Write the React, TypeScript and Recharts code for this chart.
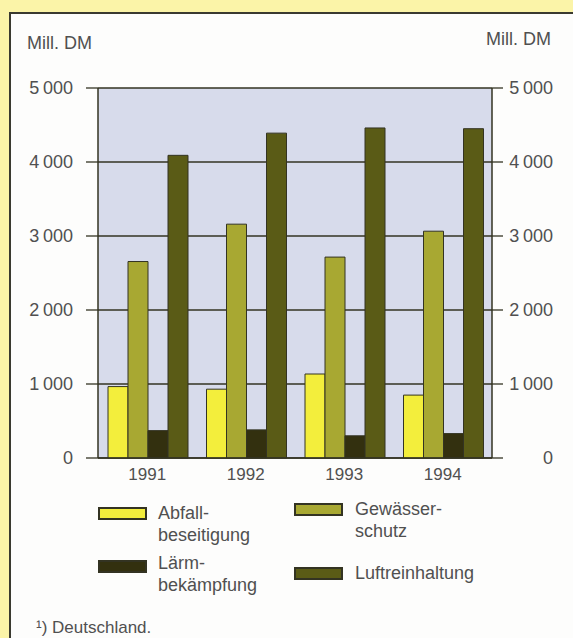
import React from 'react';
import { ComposedChart, Bar, Line, XAxis, YAxis, CartesianGrid, Legend } from 'recharts';

const years = ['1991', '1992', '1993', '1994'];
const abfall = [965, 930, 1135, 850];
const gewaesser = [2655, 3160, 2715, 3065];
const laerm = [370, 380, 300, 330];
const luft = [4090, 4390, 4460, 4450];
const yTicks = [0, 1000, 2000, 3000, 4000, 5000];
const seriesKeys = ['abfall', 'gewaesser', 'laerm', 'luft'];
const seriesLabels = [['Abfall-', 'beseitigung'], ['Gewässer-', 'schutz'], ['Lärm-', 'bekämpfung'], ['Luftreinhaltung']];
const axisTitle = 'Mill. DM';
const footnote = '¹) Deutschland.';

const colors = ['#f3ee3c', '#a8a832', '#33300f', '#5a5b16'];
const data = years.map((y, i) => ({ year: y, abfall: abfall[i], gewaesser: gewaesser[i], laerm: laerm[i], luft: luft[i] }));

const FONT = '"Liberation Sans", Arial, sans-serif';
const TEXT = '#505050';
const LINE = '#333322';

const fmt = (v: number) => (v >= 1000 ? `${Math.floor(v / 1000)}\u2009${String(v % 1000).padStart(3, '0')}` : String(v));

const RightTick = (props: any) => {
  const { x, y, payload } = props;
  return (
    <text x={x + 48} y={y} dy={6} textAnchor="end" fill={TEXT} fontSize={18} fontFamily={FONT}>
      {fmt(payload.value)}
    </text>
  );
};

const legendLayout = [
  { sx: 98, sy: 17, tx: 158, ty: 12 },
  { sx: 294, sy: 13, tx: 355, ty: 8 },
  { sx: 98, sy: 70, tx: 158, ty: 62 },
  { sx: 294, sy: 77, tx: 355, ty: 72 },
];

const LegendContent = () => (
  <div style={{ position: 'relative', width: 573, height: 120, fontFamily: FONT }}>
    {seriesKeys.map((k, i) => {
      const l = legendLayout[i];
      return (
        <React.Fragment key={k}>
          <div
            style={{
              position: 'absolute', left: l.sx, top: l.sy, width: 45, height: 9,
              background: colors[i], border: `2px solid ${LINE}`,
            }}
          />
          <div style={{ position: 'absolute', left: l.tx, top: l.ty, fontSize: 18, lineHeight: '22px', color: TEXT }}>
            {seriesLabels[i].map((t) => (
              <div key={t}>{t}</div>
            ))}
          </div>
        </React.Fragment>
      );
    })}
  </div>
);

export default function App() {
  return (
    <div style={{ position: 'absolute', left: 0, top: 0, width: 573, height: 638, background: '#fbf4a8', overflow: 'hidden' }}>
      <div
        style={{
          position: 'absolute', left: 9, top: 12, width: 620, height: 700,
          background: '#fdfdfc', border: '2px solid #3a3a30', boxSizing: 'border-box',
        }}
      />
      <div style={{ position: 'absolute', left: 27, top: 31, fontFamily: FONT, fontSize: 18, color: TEXT, lineHeight: '24px' }}>{axisTitle}</div>
      <div style={{ position: 'absolute', left: 486, top: 27, fontFamily: FONT, fontSize: 18, color: TEXT, lineHeight: '24px' }}>{axisTitle}</div>
      <div style={{ position: 'absolute', left: 36, top: 616, fontFamily: FONT, fontSize: 17, color: TEXT, lineHeight: '24px' }}>{footnote}</div>
      <div style={{ position: 'absolute', left: 0, top: 0 }}>
        <ComposedChart
          width={573}
          height={638}
          data={data}
          margin={{ top: 88, right: 21, bottom: 150, left: 38 }}
          barCategoryGap={10}
          barGap={0}
        >
          <CartesianGrid yAxisId="left" vertical={false} stroke={LINE} strokeWidth={1.3} fill="#d7dbeb" fillOpacity={1} />
          <XAxis
            dataKey="year"
            height={30}
            axisLine={{ stroke: LINE, strokeWidth: 1.5 }}
            tickLine={false}
            tickSize={0}
            tickMargin={10}
            tick={{ fill: TEXT, fontSize: 17, fontFamily: FONT }}
          />
          <YAxis
            yAxisId="left"
            width={60}
            domain={[0, 5000]}
            ticks={yTicks}
            interval={0}
            tickSize={12}
            tickMargin={13}
            tickFormatter={fmt}
            axisLine={{ stroke: LINE, strokeWidth: 1.5 }}
            tickLine={{ stroke: LINE, strokeWidth: 1.3 }}
            tick={{ fill: TEXT, fontSize: 18, fontFamily: FONT }}
          />
          <YAxis
            yAxisId="right"
            orientation="right"
            width={60}
            domain={[0, 5000]}
            ticks={yTicks}
            interval={0}
            allowDataOverflow
            tickSize={11}
            tickMargin={2}
            axisLine={{ stroke: LINE, strokeWidth: 1.5 }}
            tickLine={{ stroke: LINE, strokeWidth: 1.3 }}
            tick={<RightTick />}
          />
          <Legend
            layout="horizontal"
            verticalAlign="middle"
            align="center"
            wrapperStyle={{ left: 0, top: 490, width: 573, height: 120 }}
            content={<LegendContent />}
          />
          {seriesKeys.map((k, i) => (
            <Bar
              key={k}
              yAxisId="left"
              dataKey={k}
              fill={colors[i]}
              stroke={LINE}
              strokeWidth={1}
              isAnimationActive={false}
            />
          ))}
          <Line
            yAxisId="right"
            dataKey="luft"
            stroke="none"
            dot={false}
            activeDot={false}
            legendType="none"
            isAnimationActive={false}
          />
        </ComposedChart>
      </div>
    </div>
  );
}
